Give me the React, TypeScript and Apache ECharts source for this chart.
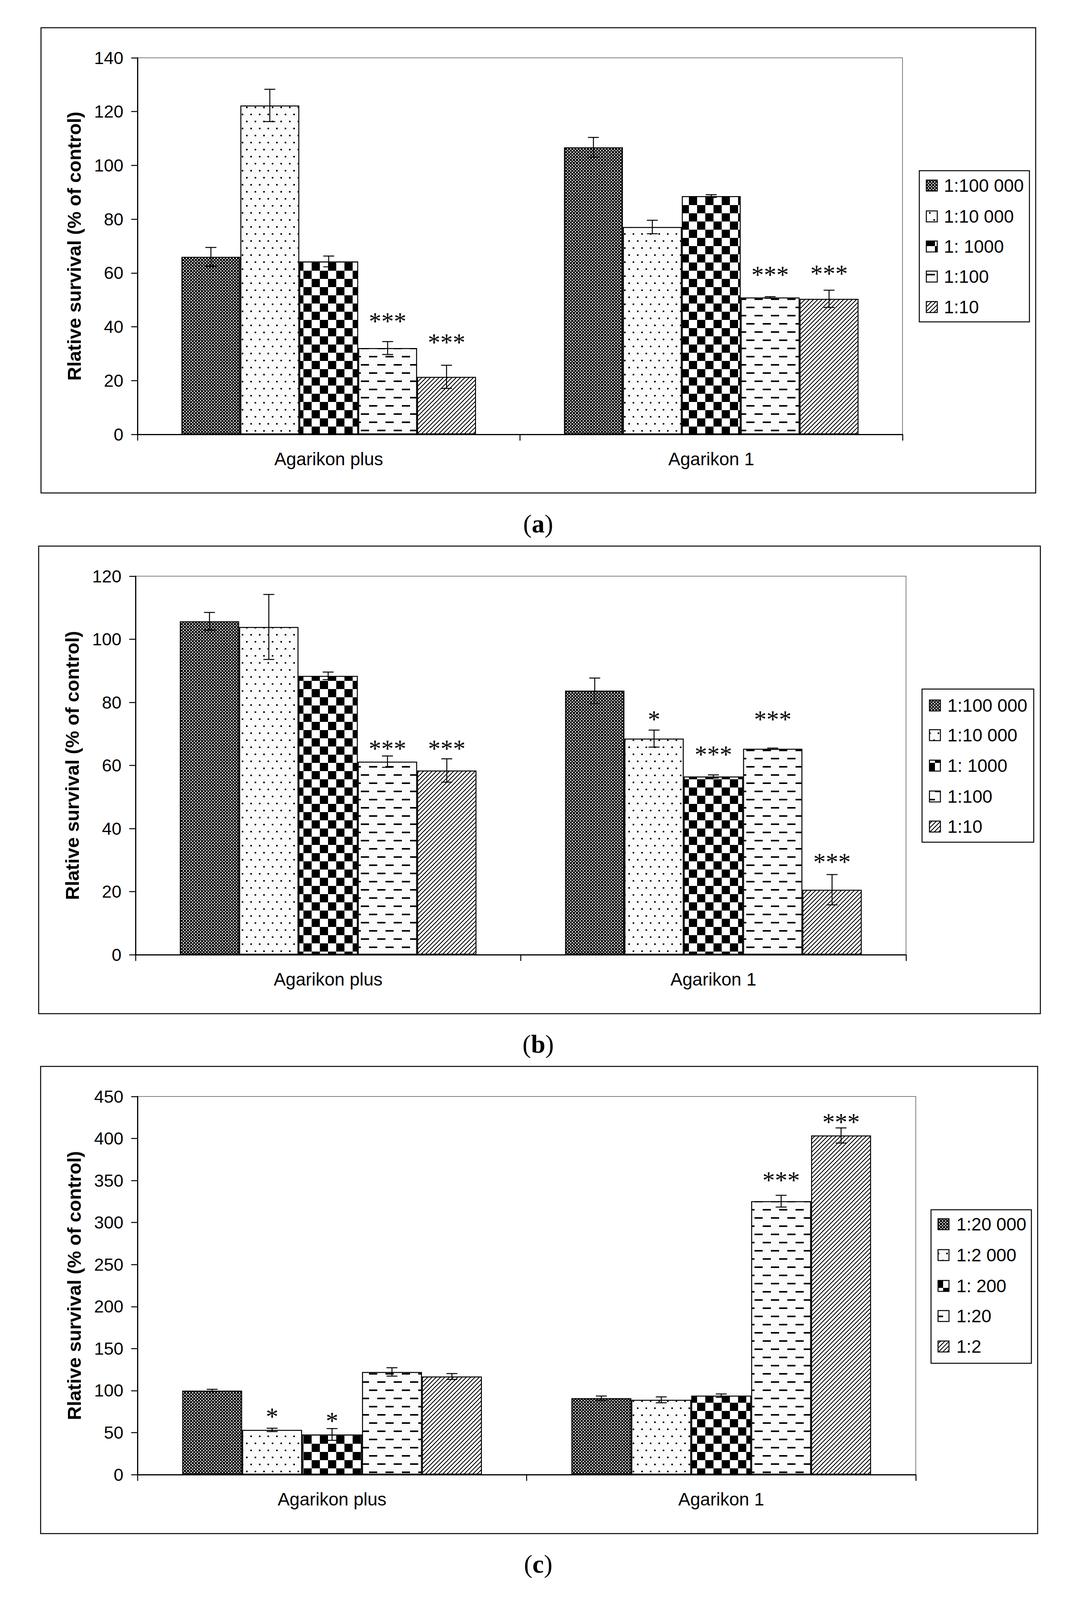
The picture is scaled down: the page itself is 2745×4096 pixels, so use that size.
import React, { useEffect, useRef } from 'react';
import * as echarts from 'echarts';

// ---------------- data ----------------
const categories = ['Agarikon plus', 'Agarikon 1'];
const yAxisTitle = 'Rlative survival (% of control)';
const legendAB = ['1:100 000', '1:10 000', '1: 1000', '1:100', '1:10'];
const legendC = ['1:20 000', '1:2 000', '1: 200', '1:20', '1:2'];
const captionLetters = ['a', 'b', 'c'];

// each row = one dilution series, values for [Agarikon plus, Agarikon 1]
const aMeans = [[66.0, 106.7], [122.3, 77.1], [64.3, 88.6], [32.1, 50.9], [21.4, 50.4]];
const aErrors = [[3.5, 3.7], [6.0, 2.5], [2.0, 0.5], [2.4, 0.3], [4.3, 3.2]];
// [category, series, marker, value where the marker sits]
const aStars = [[0, 3, '***', 43.4], [0, 4, '***', 35.5], [1, 3, '***', 60.6], [1, 4, '***', 61.1]];
const aTicks = { max: 140, step: 20 };

const bMeans = [[105.7, 83.7], [103.9, 68.5], [88.4, 56.5], [61.2, 65.3], [58.4, 20.6]];
const bErrors = [[2.8, 4.0], [10.3, 2.7], [1.2, 0.5], [1.8, 0.2], [3.7, 4.8]];
const bStars = [[0, 3, '***', 66.4], [0, 4, '***', 66.4], [1, 1, '*', 75.7], [1, 2, '***', 64.6], [1, 3, '***', 75.7], [1, 4, '***', 30.5]];
const bTicks = { max: 120, step: 20 };

const cMeans = [[100.0, 91.0], [53.2, 89.0], [47.8, 94.0], [122.2, 325.4], [116.8, 403.6]];
const cErrors = [[1.5, 2.5], [2.0, 3.5], [7.0, 2.0], [5.0, 7.0], [3.5, 9.0]];
const cStars = [[0, 1, '*', 73.0], [0, 2, '*', 68.0], [1, 3, '***', 354.7], [1, 4, '***', 423.7]];
const cTicks = { max: 450, step: 50 };

// ---------------- layout (px) ----------------
const W = 2745;
const H = 4096;
const SANS = 'Liberation Sans';
const SERIF = 'Liberation Serif';

const layout = [
  {
    box: { x: 105, y: 71, w: 2547, h: 1191 },
    grid: { left: 352, top: 148, width: 1959, height: 964 },
    legend: { x: 2354, y: 437, w: 282, h: 387, sx: 2372, tx: 2417, rows: [475, 554, 631, 708, 786] },
    caption: { x: 1378, y: 1340 },
  },
  {
    box: { x: 99, y: 1398, w: 2565, h: 1197 },
    grid: { left: 347, top: 1475, width: 1973, height: 969 },
    legend: { x: 2361, y: 1764, w: 286, h: 392, sx: 2380, tx: 2426, rows: [1806, 1882, 1960, 2039, 2116] },
    caption: { x: 1378, y: 2672 },
  },
  {
    box: { x: 104, y: 2730, w: 2553, h: 1196 },
    grid: { left: 352, top: 2807, width: 1993, height: 968 },
    legend: { x: 2384, y: 3097, w: 257, h: 393, sx: 2402, tx: 2449, rows: [3134, 3213, 3292, 3369, 3447] },
    caption: { x: 1378, y: 4003 },
  },
];

// ---------------- patterns ----------------
function tile(w: number, h: number, draw: (g: CanvasRenderingContext2D) => void) {
  const c = document.createElement('canvas');
  c.width = w;
  c.height = h;
  const g = c.getContext('2d') as CanvasRenderingContext2D;
  draw(g);
  return c;
}
function pat(c: HTMLCanvasElement) {
  return { image: c, repeat: 'repeat', imageWidth: c.width, imageHeight: c.height } as any;
}
function makePatterns() {
  const p1 = tile(8, 8, (g) => {
    g.fillStyle = '#000';
    g.fillRect(0, 0, 8, 8);
    g.fillStyle = '#fff';
    g.fillRect(0, 0, 3, 3);
    g.fillRect(4, 4, 3, 3);
  });
  const p2 = tile(22, 36, (g) => {
    g.fillStyle = '#fbfbfb';
    g.fillRect(0, 0, 22, 36);
    g.fillStyle = '#e4e4e4';
    g.fillRect(10, 8, 2, 2);
    g.fillRect(2, 28, 2, 2);
    g.fillStyle = '#000';
    g.fillRect(3, 3, 4, 4);
    g.fillRect(14, 21, 4, 4);
  });
  const p3 = tile(42, 42, (g) => {
    g.fillStyle = '#fff';
    g.fillRect(0, 0, 42, 42);
    g.fillStyle = '#000';
    g.fillRect(0, 0, 21, 21);
    g.fillRect(21, 21, 21, 21);
  });
  const p4 = tile(42, 42, (g) => {
    g.fillStyle = '#fbfbfb';
    g.fillRect(0, 0, 42, 42);
    g.fillStyle = '#e4e4e4';
    g.fillRect(30, 16, 2, 2);
    g.fillRect(8, 36, 2, 2);
    g.fillStyle = '#000';
    g.fillRect(0, 8, 21, 4);
    g.fillRect(21, 29, 21, 4);
  });
  const p5 = tile(11, 11, (g) => {
    g.fillStyle = '#fff';
    g.fillRect(0, 0, 11, 11);
    g.fillStyle = '#000';
    for (let y = 0; y < 11; y++) {
      for (let k = 0; k < 3; k++) {
        const x = (10 - y + k + 11) % 11;
        g.fillRect(x, y, 1, 1);
      }
    }
  });
  return [p1, p2, p3, p4, p5].map(pat);
}

// ---------------- chart ----------------
const panels = [
  { means: aMeans, errors: aErrors, stars: aStars, ticks: aTicks, legend: legendAB },
  { means: bMeans, errors: bErrors, stars: bStars, ticks: bTicks, legend: legendAB },
  { means: cMeans, errors: cErrors, stars: cStars, ticks: cTicks, legend: legendC },
];

const CLUSTER = 0.77; // share of a category filled by the 5 bars

function buildOption() {
  const patterns = makePatterns();
  const grids: any[] = [];
  const xAxes: any[] = [];
  const yAxes: any[] = [];
  const series: any[] = [];
  const graphics: any[] = [];

  panels.forEach((p, pi) => {
    const L = layout[pi];
    grids.push({
      ...L.grid,
      show: true,
      borderColor: '#808080',
      borderWidth: 2,
      backgroundColor: 'transparent',
      containLabel: false,
    });
    xAxes.push({
      type: 'category',
      gridIndex: pi,
      data: categories,
      boundaryGap: true,
      axisLine: { show: true, lineStyle: { color: '#000', width: 3 } },
      axisTick: { show: true, inside: false, length: 16, alignWithLabel: false, lineStyle: { color: '#000', width: 2.5 } },
      axisLabel: { color: '#000', fontFamily: SANS, fontSize: 46, margin: 40 },
      splitLine: { show: false },
    });
    yAxes.push({
      type: 'value',
      gridIndex: pi,
      min: 0,
      max: p.ticks.max,
      interval: p.ticks.step,
      axisLine: { show: true, onZero: false, lineStyle: { color: '#000', width: 3 } },
      axisTick: { show: true, inside: false, length: 16, lineStyle: { color: '#000', width: 2.5 } },
      axisLabel: { color: '#000', fontFamily: SANS, fontSize: 45, margin: 36 },
      splitLine: { show: false },
    });

    p.means.forEach((vals, si) => {
      series.push({
        type: 'bar',
        name: p.legend[si],
        xAxisIndex: pi,
        yAxisIndex: pi,
        data: vals,
        barGap: '0%',
        barCategoryGap: `${Math.round((1 - CLUSTER) * 100)}%`,
        itemStyle: { color: patterns[si], borderColor: '#000', borderWidth: 2.5 },
        silent: true,
        z: 2,
      });
    });

    // error bars and significance marks
    const items: any[] = [];
    p.means.forEach((vals, si) => {
      vals.forEach((v, ci) => {
        const star = p.stars.find((s) => s[0] === ci && s[1] === si);
        items.push({ cat: ci, s: si, val: v, err: p.errors[si][ci], star });
      });
    });
    series.push({
      type: 'custom',
      xAxisIndex: pi,
      yAxisIndex: pi,
      silent: true,
      z: 10,
      data: items.map((it) => [it.cat, it.val + it.err]),
      encode: { x: 0, y: 1 },
      renderItem: (params: any, api: any) => {
        const it = items[params.dataIndex];
        const band = api.size([1, 0])[0];
        const cluster = band * CLUSTER;
        const bw = cluster / 5;
        const cx = api.coord([it.cat, 0])[0] - cluster / 2 + (it.s + 0.5) * bw;
        const yHi = api.coord([it.cat, it.val + it.err])[1];
        const yLo = api.coord([it.cat, it.val - it.err])[1];
        const cap = 14;
        const ls = { stroke: '#000', lineWidth: 2.5 };
        const children: any[] = [
          { type: 'line', shape: { x1: cx, y1: yHi, x2: cx, y2: yLo }, style: ls },
          { type: 'line', shape: { x1: cx - cap, y1: yHi, x2: cx + cap, y2: yHi }, style: ls },
          { type: 'line', shape: { x1: cx - cap, y1: yLo, x2: cx + cap, y2: yLo }, style: ls },
        ];
        if (it.star) {
          const ys = api.coord([it.cat, it.star[3]])[1];
          children.push({
            type: 'text',
            x: cx,
            y: ys + 9,
            style: {
              text: it.star[2],
              align: 'center',
              verticalAlign: 'middle',
              fontFamily: SERIF,
              fontSize: 64,
              fill: '#000',
            },
          });
        }
        return { type: 'group', children };
      },
    });

    // frame
    graphics.push({
      type: 'rect',
      shape: { x: L.box.x, y: L.box.y, width: L.box.w, height: L.box.h },
      style: { fill: 'none', stroke: '#000', lineWidth: 2.5 },
      silent: true,
    });
    // y title
    graphics.push({
      type: 'text',
      x: L.grid.left - 162,
      y: L.grid.top + L.grid.height / 2,
      rotation: Math.PI / 2,
      style: {
        text: yAxisTitle,
        align: 'center',
        verticalAlign: 'middle',
        fontFamily: SANS,
        fontWeight: 'bold',
        fontSize: 49,
        fill: '#000',
      },
      silent: true,
    });
    // legend
    const lg = L.legend;
    graphics.push({
      type: 'rect',
      shape: { x: lg.x, y: lg.y, width: lg.w, height: lg.h },
      style: { fill: '#fff', stroke: '#000', lineWidth: 2.5 },
      silent: true,
    });
    p.legend.forEach((name, si) => {
      const ry = lg.rows[si];
      graphics.push({
        type: 'rect',
        shape: { x: lg.sx, y: ry - 14, width: 28, height: 28 },
        style: { fill: patterns[si], stroke: '#000', lineWidth: 2.5 },
        silent: true,
      });
      graphics.push({
        type: 'text',
        x: lg.tx,
        y: ry,
        style: {
          text: name,
          align: 'left',
          verticalAlign: 'middle',
          fontFamily: SANS,
          fontSize: 46,
          fill: '#000',
        },
        silent: true,
      });
    });
    // caption
    graphics.push({
      type: 'text',
      x: L.caption.x,
      y: L.caption.y,
      style: {
        text: `{p|(}{b|${captionLetters[pi]}}{p|)}`,
        align: 'center',
        verticalAlign: 'middle',
        rich: {
          p: { fontFamily: SERIF, fontSize: 66, fill: '#000' },
          b: { fontFamily: SERIF, fontSize: 66, fontWeight: 'bold', fill: '#000' },
        },
      },
      silent: true,
    });
  });

  return {
    animation: false,
    backgroundColor: '#fff',
    grid: grids,
    xAxis: xAxes,
    yAxis: yAxes,
    series,
    graphic: graphics,
    tooltip: { show: false },
  };
}

export default function App() {
  const ref = useRef<HTMLDivElement>(null);
  useEffect(() => {
    if (!ref.current) return;
    const chart = echarts.init(ref.current, undefined, { renderer: 'svg', width: W, height: H });
    chart.setOption(buildOption() as any);
    return () => chart.dispose();
  }, []);
  return (
    <div
      ref={ref}
      style={{ position: 'absolute', left: 0, top: 0, width: W, height: H, background: '#fff' }}
    />
  );
}
